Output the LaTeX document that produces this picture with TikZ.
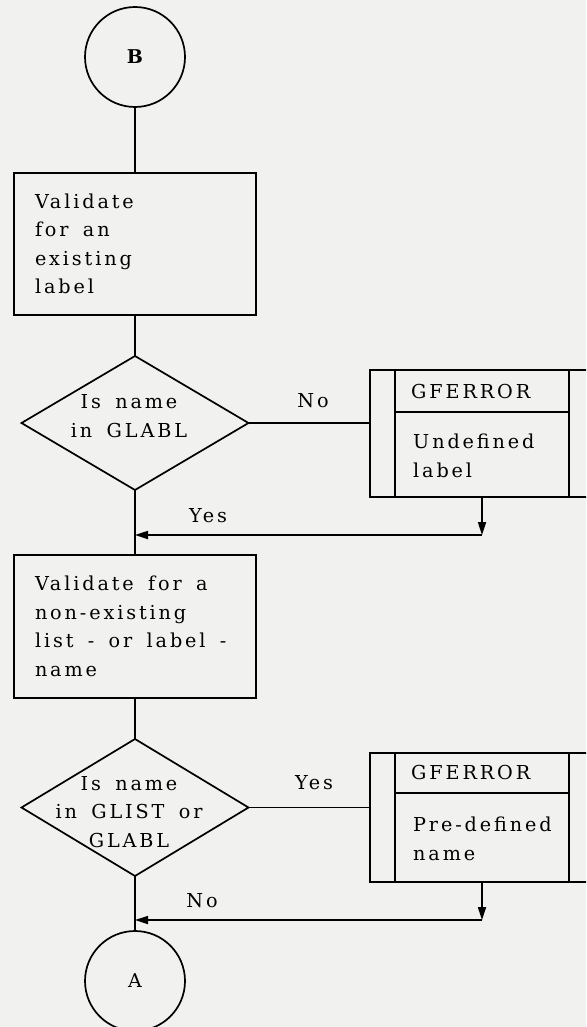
\documentclass[tikz,border=0pt]{standalone}
\usepackage{fontspec}
\setmainfont{DejaVu Serif}[LetterSpace=15,WordSpace=1.6]
\usetikzlibrary{shapes.geometric,arrows.meta}
\definecolor{paper}{RGB}{241,241,239}
\newcommand{\natsp}{\spaceskip=0pt\xspaceskip=0pt\relax}
\begin{document}
\begin{tikzpicture}[x=1pt,y=-1pt,
  every node/.style={font=\fontsize{19.2}{28.5}\selectfont, text=black},
  line/.style={line width=1.7pt, draw=black},
  procbox/.style={line, rectangle, minimum width=242pt, inner xsep=21pt, text width=200pt, align=left, outer sep=0pt},
  decbox/.style={line, diamond, minimum width=227pt, minimum height=134pt, inner sep=0pt, outer sep=0pt},
  dectext/.style={align=center, anchor=base, inner sep=0pt},
  connbox/.style={line, circle, minimum size=100pt, inner sep=0pt, outer sep=0pt, font=\fontsize{19}{20}\selectfont},
  subrbox/.style={line, rectangle, minimum width=224pt, outer sep=0pt},
  subtext/.style={align=left, anchor=base west, inner sep=0pt},
  lbl/.style={anchor=base, inner sep=0pt},
  tip/.style={-{Triangle[length=13pt,width=8pt]}}
]
\path[use as bounding box, fill=paper] (0,0) rectangle (586,1027);
\clip (0,0) rectangle (586,1027);

% connector B
\node[connbox] (B) at (135,57) {\bfseries B};
% first process
\node[procbox, minimum height=142pt] (p1) at (135,244) {\natsp Validate\\for an\\existing\\label};
% first decision
\node[decbox] (d1) at (135,423) {};
\node[dectext] (d1t) at (129,437) {Is name\\in GLABL};
% first subroutine
\node[subrbox, minimum height=127pt] (s1) at (482,433.5) {};
\draw[line] ([xshift=25pt]s1.north west) -- ([xshift=25pt]s1.south west);
\draw[line] ([xshift=-25pt]s1.north east) -- ([xshift=-25pt]s1.south east);
\draw[line] ([xshift=25pt,yshift=-42pt]s1.north west) -- ([xshift=-25pt,yshift=-42pt]s1.north east);
\node[subtext] (s1a) at (411,398) {GFERROR};
\node[subtext] (s1b) at (413,477) {Undefined\\label};
% second process
\node[procbox, minimum height=143pt] (p2) at (135,626.5) {\natsp Validate for a\\non-existing\\list - or label -\\name};
% second decision
\node[decbox, minimum height=137pt] (d2) at (135,807.5) {};
\node[dectext] (d2t) at (129,847) {Is name\\in GLIST or\\GLABL};
% second subroutine
\node[subrbox, minimum height=129pt] (s2) at (482,817.5) {};
\draw[line] ([xshift=25pt]s2.north west) -- ([xshift=25pt]s2.south west);
\draw[line] ([xshift=-25pt]s2.north east) -- ([xshift=-25pt]s2.south east);
\draw[line] ([xshift=25pt,yshift=-40pt]s2.north west) -- ([xshift=-25pt,yshift=-40pt]s2.north east);
\node[subtext] (s2a) at (411,779) {GFERROR};
\node[subtext] (s2b) at (413,860) {Pre-defined\\name};
% connector A
\node[connbox] (A) at (135,981) {A};

% join points
\coordinate (j1) at (135,535);
\coordinate (c1) at (482,535);
\coordinate (j2) at (135,920);
\coordinate (c2) at (482,920);

% flow lines
\draw[line] (B.south) -- (p1.north);
\draw[line] (p1.south) -- (d1.north);
\draw[line] (d1.east) -- (d1.east -| s1.west);
\draw[line] (d1.south) -- (p2.north);
\draw[line, tip] (s1.south) -- (c1);
\draw[line, tip] (c1) -- (j1);
\draw[line] (p2.south) -- (d2.north);
\draw[line] (d2.east) -- (d2.east -| s2.west);
\draw[line] (d2.south) -- (A.north);
\draw[line, tip] (s2.south) -- (c2);
\draw[line, tip] (c2) -- (j2);

% branch labels
\node[lbl] (l1) at (313,407) {No};
\node[lbl] (l2) at (208,522) {Yes};
\node[lbl] (l3) at (314,789) {Yes};
\node[lbl] (l4) at (202,907) {No};
\end{tikzpicture}
\end{document}
